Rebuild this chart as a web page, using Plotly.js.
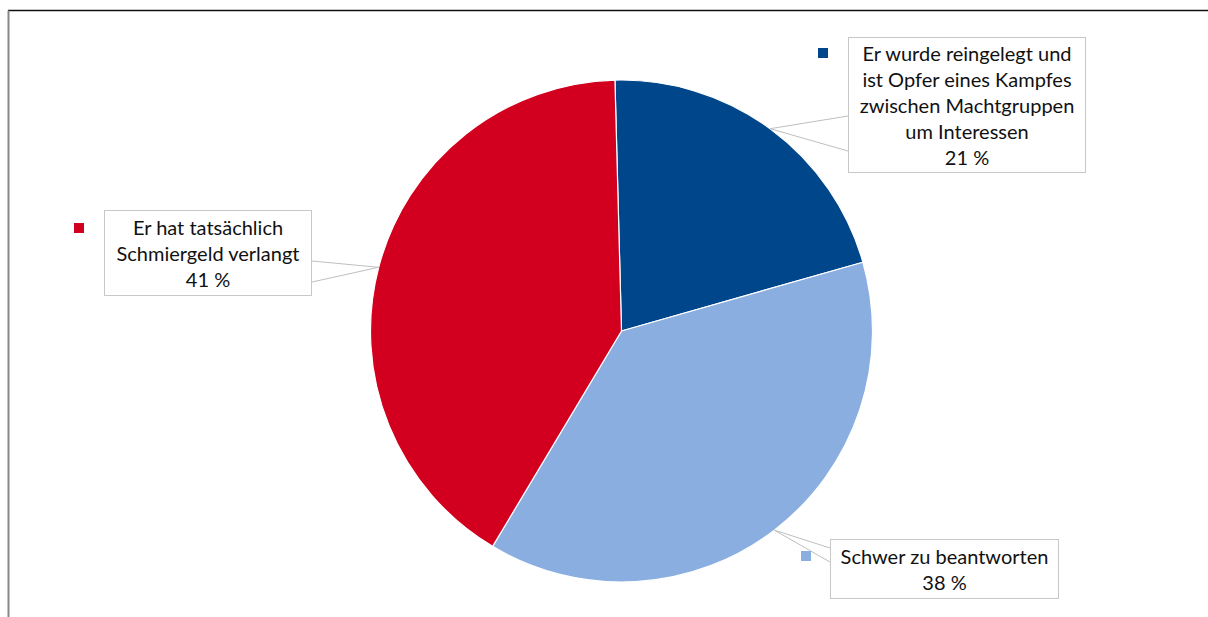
<!DOCTYPE html>
<html>
<head>
<meta charset="utf-8">
<script src="https://cdn.plot.ly/plotly-3.0.1.min.js"></script>
<style>html,body{margin:0;padding:0;background:#fff;}#chart{width:1208px;height:617px;}</style>
</head>
<body>
<div id="chart"></div>
<script>
// Data
const categories = [
  "Er wurde reingelegt und<br>ist Opfer eines Kampfes<br>zwischen Machtgruppen<br>um Interessen",
  "Schwer zu beantworten",
  "Er hat tatsächlich<br>Schmiergeld verlangt"
];
const values = [21, 38, 41];
const valueLabels = ["21 %", "38 %", "41 %"];
const colors = ["#00468a", "#8aaee0", "#d2001e"];

// Layout helpers (pixel -> paper)
const W = 1208, H = 617;
const px = x => x / W;
const py = y => 1 - y / H;

const cx = 621.5, cy = 331, R = 251, rotation = -1.5;

// label boxes (pixel geometry)
const boxes = [
  {x0: 848, x1: 1086, y0: 37, y1: 173, e0: 116, e1: 151, edge: 848, sq: [818, 48]},
  {x0: 830, x1: 1059, y0: 539, y1: 599, e0: 548, e1: 562, edge: 830, sq: [801, 551]},
  {x0: 104, x1: 312, y0: 210, y1: 296, e0: 261, e1: 282, edge: 312, sq: [74, 223]}
];

const total = values.reduce((a, b) => a + b, 0);
let ang = rotation;
const shapes = [];
const annotations = [];
values.forEach((v, i) => {
  const mid = ang + v / total * 360 / 2;
  ang += v / total * 360;
  const a = mid * Math.PI / 180;
  const ax = cx + R * Math.sin(a), ay = cy - R * Math.cos(a);
  const b = boxes[i];
  shapes.push({
    type: 'path', xref: 'paper', yref: 'paper', layer: 'above',
    path: `M ${px(b.edge)} ${py(b.e0)} L ${px(ax)} ${py(ay)} L ${px(b.edge)} ${py(b.e1)}`,
    line: {color: '#bfbfbf', width: 1}
  });
  shapes.push({
    type: 'rect', xref: 'paper', yref: 'paper', layer: 'above',
    x0: px(b.sq[0]), x1: px(b.sq[0] + 10), y0: py(b.sq[1]), y1: py(b.sq[1] + 10),
    fillcolor: colors[i], line: {width: 0}
  });
  annotations.push({
    xref: 'paper', yref: 'paper',
    x: px((b.x0 + b.x1) / 2), y: py((b.y0 + b.y1) / 2),
    xanchor: 'center', yanchor: 'middle',
    width: b.x1 - b.x0 - 2, height: b.y1 - b.y0 - 2,
    borderpad: 0, borderwidth: 1, bordercolor: '#c8c8c8', bgcolor: '#ffffff',
    showarrow: false, align: 'center', valign: 'middle',
    text: categories[i] + '<br>' + valueLabels[i],
    font: {family: 'Lato, sans-serif', size: 20, color: '#111111'}
  });
});

// frame
shapes.push({type: 'line', xref: 'paper', yref: 'paper', x0: px(8), x1: 1, y0: py(10.5), y1: py(10.5), line: {color: '#111', width: 1.5}});
shapes.push({type: 'line', xref: 'paper', yref: 'paper', x0: px(8.5), x1: px(8.5), y0: py(10.5), y1: 0, line: {color: '#888', width: 2}});

const trace = {
  type: 'pie',
  labels: categories,
  values: values,
  sort: false,
  direction: 'clockwise',
  rotation: rotation,
  marker: {colors: colors, line: {color: '#ffffff', width: 1.2}},
  textinfo: 'none',
  hoverinfo: 'label+percent',
  showlegend: false,
  domain: {x: [px(cx - R), px(cx + R)], y: [py(cy + R), py(cy - R)]}
};

Plotly.newPlot('chart', [trace], {
  width: W, height: H,
  margin: {l: 0, r: 0, t: 0, b: 0},
  paper_bgcolor: '#ffffff',
  showlegend: false,
  shapes: shapes,
  annotations: annotations
}, {displayModeBar: false, staticPlot: true});
</script>
</body>
</html>
